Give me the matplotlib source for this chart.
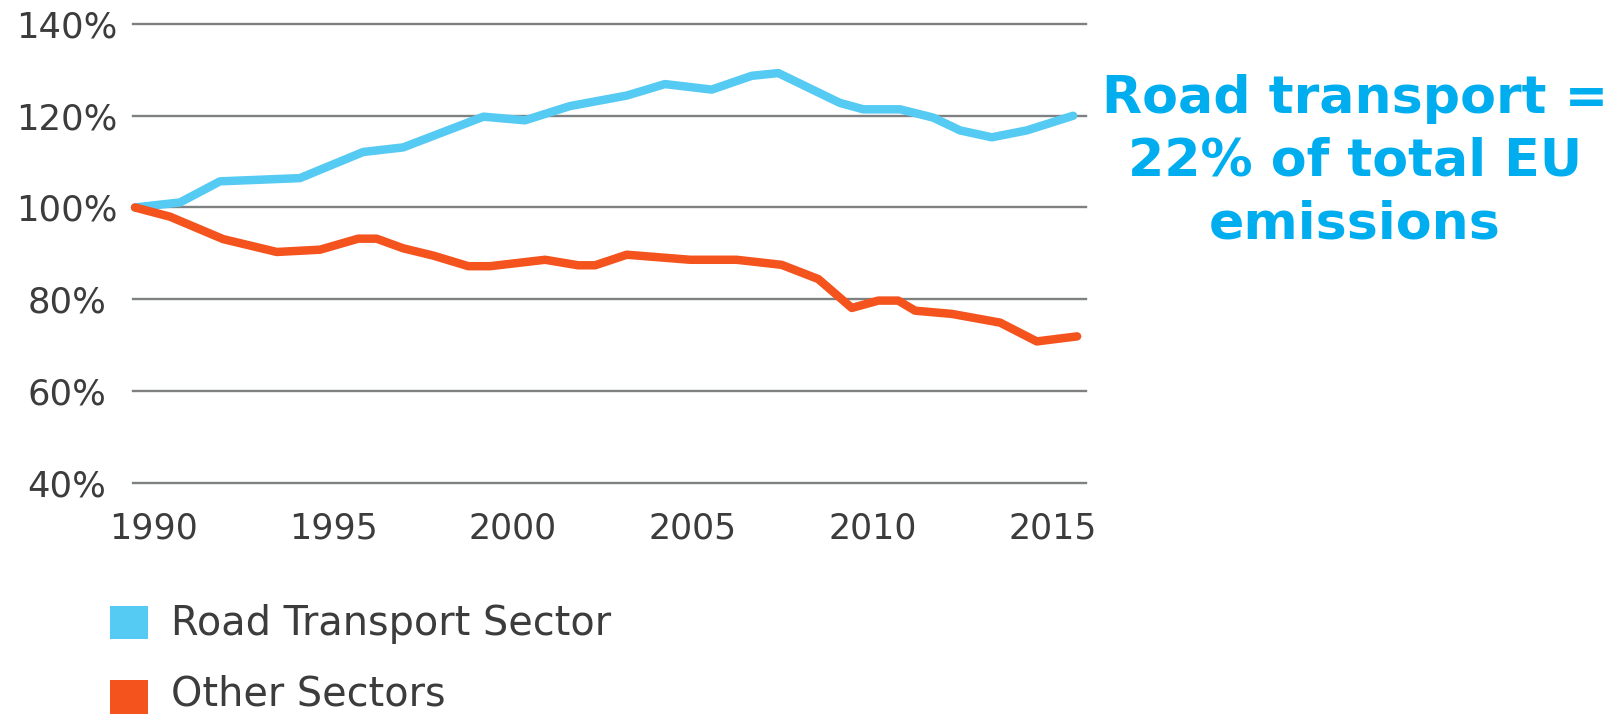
import matplotlib
matplotlib.use("Agg")
import matplotlib.pyplot as plt
import matplotlib.transforms as mtransforms
from matplotlib.patches import Rectangle

# ---- data ----
road_years = [1990.0, 1991.25, 1992.36, 1994.58, 1996.34, 1997.45, 1999.68, 2000.83,
              2002.08, 2003.66, 2004.72, 2006.02, 2007.13, 2007.87, 2009.58, 2010.23,
              2011.25, 2012.17, 2012.92, 2013.80, 2014.77, 2016.06]
road_values = [100.0, 101.1, 105.7, 106.4, 112.1, 113.1, 119.8, 119.0,
               122.1, 124.4, 126.9, 125.7, 128.7, 129.3, 122.8, 121.4,
               121.4, 119.6, 116.8, 115.3, 116.8, 120.0]

other_years = [1990.0, 1990.97, 1992.45, 1993.94, 1995.14, 1996.20, 1996.71, 1997.45,
               1998.29, 1999.26, 1999.86, 2001.39, 2002.31, 2002.78, 2003.66, 2005.42,
               2006.71, 2007.96, 2008.98, 2009.91, 2010.65, 2011.20, 2011.67, 2012.69,
               2014.03, 2015.05, 2016.17]
other_values = [100.0, 98.0, 93.1, 90.3, 90.8, 93.2, 93.2, 91.1,
                89.5, 87.2, 87.2, 88.6, 87.4, 87.4, 89.7, 88.6,
                88.6, 87.5, 84.4, 78.1, 79.7, 79.7, 77.5, 76.8,
                74.9, 70.8, 71.9]

x_ticks = [1990, 1995, 2000, 2005, 2010, 2015]
y_ticks = [40, 60, 80, 100, 120, 140]
y_tick_labels = ["40%", "60%", "80%", "100%", "120%", "140%"]
series_names = ["Road Transport Sector", "Other Sectors"]
annotation_lines = ["Road transport =", "22% of total EU", "emissions"]

BLUE = "#55CAF3"
ORANGE = "#F4531E"
ANNOT = "#00AEEF"
TEXT = "#3C3C3C"
GRID = "#7F8082"

W, H = 1617, 714
fig = plt.figure(figsize=(W / 100, H / 100), dpi=100)
plt.rcParams['font.family'] = ['DejaVu Sans']

ax = fig.add_axes([133 / W, 1 - 482.7 / H, (1086 - 133) / W, (482.7 - 24) / H])
ax.set_xlim(1989.944, 2016.417)
ax.set_ylim(40, 140)

ax.plot(road_years, road_values, color=BLUE, lw=6.1, solid_joinstyle='round',
        solid_capstyle='round', clip_on=False, zorder=3)
ax.plot(other_years, other_values, color=ORANGE, lw=6.1, solid_joinstyle='round',
        solid_capstyle='round', clip_on=False, zorder=4)

for s in ax.spines.values():
    s.set_visible(False)

ax.set_yticks(y_ticks)
ax.set_yticklabels(y_tick_labels)
ax.set_xticks(x_ticks)
ax.set_xticklabels([str(x) for x in x_ticks])
ax.yaxis.grid(True, color=GRID, lw=1.7)
ax.xaxis.grid(False)
for gl in ax.get_ygridlines():
    gl.set_clip_on(False)
ax.set_axisbelow(True)

ax.tick_params(axis='y', length=0, pad=47.5, labelsize=25.5, labelcolor=TEXT)
ax.tick_params(axis='x', length=0, pad=21, labelsize=25, labelcolor=TEXT)
for lab in ax.get_yticklabels():
    lab.set_horizontalalignment('center')

offset = mtransforms.ScaledTranslation(18 / 100, 0, fig.dpi_scale_trans)
for lab in ax.get_xticklabels():
    lab.set_transform(lab.get_transform() + offset)

# legend (manual)
legend_colors = [BLUE, ORANGE]
legend_rows = [(606, 639, 624), (680, 714, 695)]
for name, col, (top, bot, cy) in zip(series_names, legend_colors, legend_rows):
    fig.patches.append(Rectangle((110 / W, 1 - bot / H), 37.5 / W, (bot - top) / H,
                                 transform=fig.transFigure, color=col, lw=0))
    fig.text(171 / W, 1 - cy / H, name, fontsize=28.6, color=TEXT,
             ha='left', va='center')

# annotation
baselines = [113, 176, 239]
for line, b in zip(annotation_lines, baselines):
    fig.text(1355 / W, 1 - b / H, line, fontsize=37.5, fontweight='bold',
             color=ANNOT, ha='center', va='baseline')

fig.savefig("out.png", dpi=100)
